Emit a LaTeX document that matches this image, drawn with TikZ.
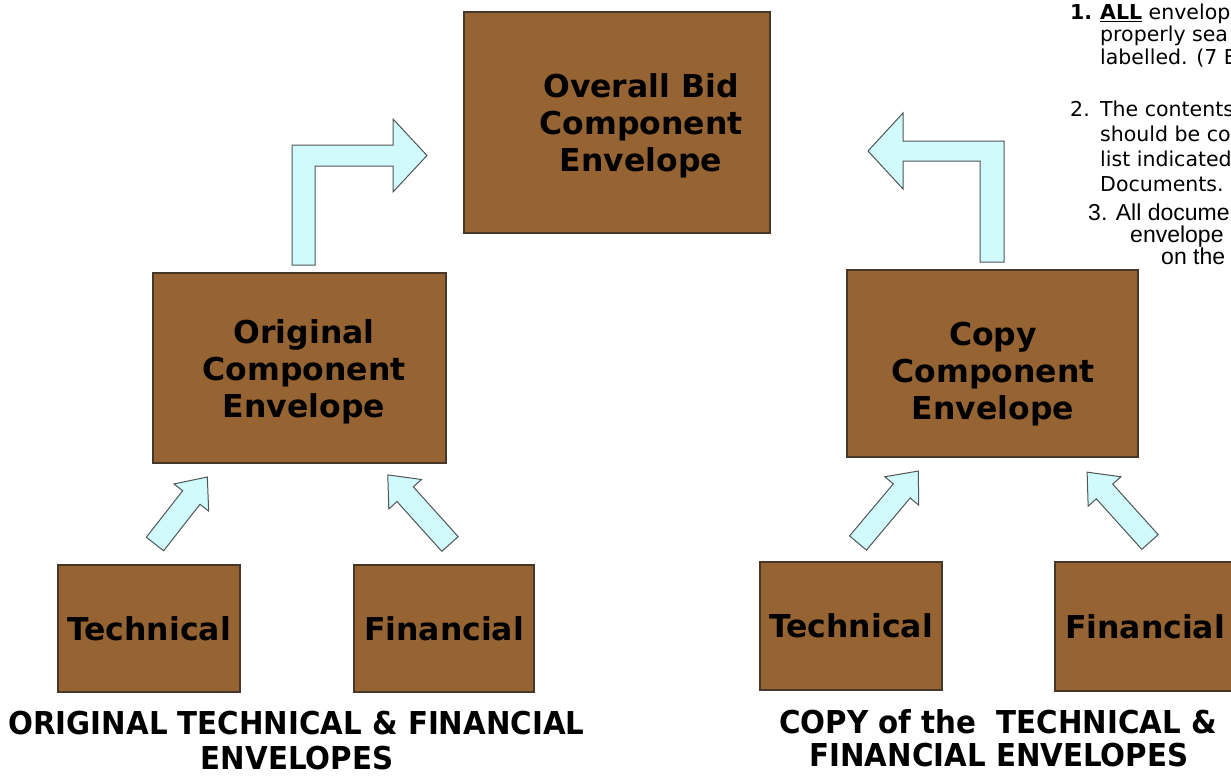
\documentclass[tikz,border=0pt]{standalone}
\usepackage{fontspec}
\setmainfont{DejaVu Sans}
\newfontfamily\capfont[FakeStretch=0.93]{DejaVu Sans}
\newfontfamily\arialfont{Liberation Sans}
\definecolor{envbrown}{RGB}{150,100,50}
\definecolor{envedge}{RGB}{70,55,40}
\definecolor{arrowcyan}{RGB}{208,250,252}
\definecolor{arrowedge}{RGB}{80,85,85}
\begin{document}
\begin{tikzpicture}[x=1pt,y=-1pt,
        envtext/.style={align=center,inner sep=0pt,font=\fontsize{31.5}{37}\selectfont\bfseries}]
        \useasboundingbox (0,0) rectangle (1231,776);
        \clip (0,0) rectangle (1231,776);
        % envelopes
        \begin{scope}[every node/.style={rectangle,draw=envedge,fill=envbrown,line width=1.2pt,align=center,inner sep=0pt,font=\fontsize{31.5}{37}\selectfont\bfseries}]
            \node[minimum width=306pt,minimum height=221pt] (bid) at (617,122.5) {};

            \node[minimum width=293pt,minimum height=190pt] (orig) at (299.5,368) {};
            \node[minimum width=291pt,minimum height=187pt] (copy) at (992.5,363.5) {};

            \node[minimum width=182pt,minimum height=127pt] (tecL) at (149,628.5) {Technical};
            \node[minimum width=180pt,minimum height=127pt] (finL) at (444,628.5) {Financial};
            \node[minimum width=182pt,minimum height=128pt] (tecR) at (851,626) {Technical};
            \node[minimum width=180pt,minimum height=129pt] (finR) at (1145,626.5) {Financial};
        \end{scope}
        \node[envtext] (bidtext) at (641,126) {Overall Bid\\Component\\Envelope};
        \node[envtext] (origtext) at (304,372) {Original\\Component\\Envelope};
        \node[envtext] (copytext) at (993,374) {Copy\\Component\\Envelope};
        % block arrows
        \begin{scope}[fill=arrowcyan,draw=arrowedge,line width=1pt,line join=miter]
            \filldraw (292,265) -- (292,145) -- (393,145) -- (393,119) -- (427,155.5)
                -- (393,192) -- (393,166) -- (315,166) -- (315,265) -- cycle;
            \filldraw (1004,262) -- (1004,141) -- (903,141) -- (903,113) -- (868,151)
                -- (903,189) -- (903,161) -- (980,161) -- (980,262) -- cycle;
            \foreach \px/\py/\ang/\len in {155/544/52/85, 450/544/132/93, 858/543/50/94, 1150/542/132/94}
            {
                \filldraw[shift={(\px,\py)},rotate=\ang] (0,-11) -- (\len-26,-11) -- (\len-26,-22)
                    -- (\len,0) -- (\len-26,22) -- (\len-26,11) -- (0,11) -- cycle;
            }
        \end{scope}
        % captions
        \begin{scope}[every node/.style={anchor=base,inner sep=0pt,font=\capfont\bfseries\fontsize{31.5}{37}\selectfont}]
            \node (capL1) at (296.5,734) {ORIGINAL TECHNICAL \& FINANCIAL};
            \node (capL2) at (297,769) {ENVELOPES};
            \node (capR1) at (998,733) {COPY of the\ \ TECHNICAL \&};
            \node (capR2) at (999,766) {FINANCIAL ENVELOPES};
        \end{scope}
        % notes
        \begin{scope}[every node/.style={anchor=base west,inner sep=0pt,font=\fontsize{20.5}{24}\selectfont}]
            \node (n1) at (1070,20) {\textbf{1.}};
            \node (n1a) at (1100,20) {\textbf{\underline{ALL}} envelop};
            \node (n1b) at (1100,42) {properly sea};
            \node (n1c) at (1100,64) {labelled. (7 E};
            \node (n2) at (1070,116) {2.};
            \node (n2a) at (1100,116) {The contents};
            \node (n2b) at (1100,141) {should be co};
            \node (n2c) at (1100,166) {list indicated};
            \node (n2d) at (1100,191) {Documents.};
        \end{scope}
        \begin{scope}[every node/.style={anchor=base west,inner sep=0pt,font=\arialfont\fontsize{23}{24}\selectfont}]
            \node (n3a) at (1088,220) {3. All docume};
            \node (n3b) at (1130,242) {envelope};
            \node (n3c) at (1161,264) {on the};
        \end{scope}
    \end{tikzpicture}
\end{document}
